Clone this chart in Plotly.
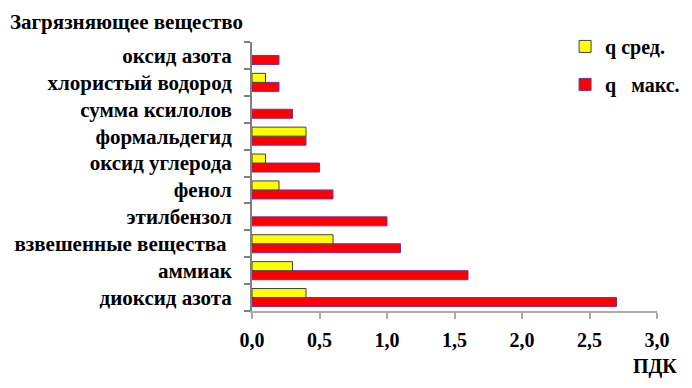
import plotly.graph_objects as go

categories = ["диоксид азота", "аммиак", "взвешенные вещества ", "этилбензол", "фенол",
              "оксид углерода", "формальдегид", "сумма ксилолов", "хлористый водород", "оксид азота"]
q_avg = [0.4, 0.3, 0.6, None, 0.2, 0.1, 0.4, None, 0.1, None]
q_max = [2.7, 1.6, 1.1, 1.0, 0.6, 0.5, 0.4, 0.3, 0.2, 0.2]
x_ticks = [0, 0.5, 1.0, 1.5, 2.0, 2.5, 3.0]

FONT = "Liberation Serif"

fig = go.Figure()
fig.add_trace(go.Bar(
    y=categories, x=q_max, orientation="h", name="q\u00a0\u00a0 макс.",
    marker=dict(color="#FF0000", line=dict(color="#7030A0", width=1)),
    legendgroup="b", legendrank=2,
))
fig.add_trace(go.Bar(
    y=categories, x=q_avg, orientation="h", name="q сред.",
    marker=dict(color="#FFFF00", line=dict(color="#404040", width=1)),
    legendgroup="a", legendrank=1,
))

fig.update_layout(
    width=684, height=380, autosize=False,
    margin=dict(l=244, r=35, t=34, b=77, autoexpand=False),
    paper_bgcolor="white", plot_bgcolor="white",
    barmode="group", bargap=0.33, bargroupgap=0,
    separators=", ",
    font=dict(family=FONT, size=18, color="black"),
    showlegend=True,
    legend=dict(
        x=0.773, y=1.056, xanchor="left", yanchor="top",
        traceorder="grouped", tracegroupgap=9,
        font=dict(family=FONT, size=20, color="black", weight="bold"),
        bgcolor="rgba(0,0,0,0)",
    ),
    xaxis=dict(
        range=[0, 3], tickvals=x_ticks, tickformat=".1f",
        showgrid=False, zeroline=False, automargin=False,
        showline=True, linecolor="#ABABAB", linewidth=2,
        ticks="outside", ticklen=6, tickcolor="#ABABAB", tickwidth=2,
        tickfont=dict(family=FONT, size=20, weight="bold"),
        ticklabelstandoff=4,
    ),
    yaxis=dict(
        type="category", categoryorder="array", categoryarray=categories,
        showgrid=False, zeroline=False, automargin=False,
        showline=True, linecolor="#808080", linewidth=2,
        ticks="outside", ticklen=6, tickcolor="#808080", tickwidth=2,
        tickson="boundaries",
        tickfont=dict(family=FONT, size=21, weight="bold"),
        ticklabelstandoff=14,
    ),
    annotations=[
        dict(text="Загрязняющее вещество", xref="paper", yref="paper",
             x=-0.6025, y=1.074, xanchor="left", yanchor="middle",
             showarrow=False, font=dict(family=FONT, size=21, weight="bold")),
        dict(text="ПДК", xref="paper", yref="paper",
             x=0.995, y=-0.2045, xanchor="center", yanchor="middle",
             showarrow=False, font=dict(family=FONT, size=20, weight="bold")),
    ],
)

fig.write_html("out.html")
